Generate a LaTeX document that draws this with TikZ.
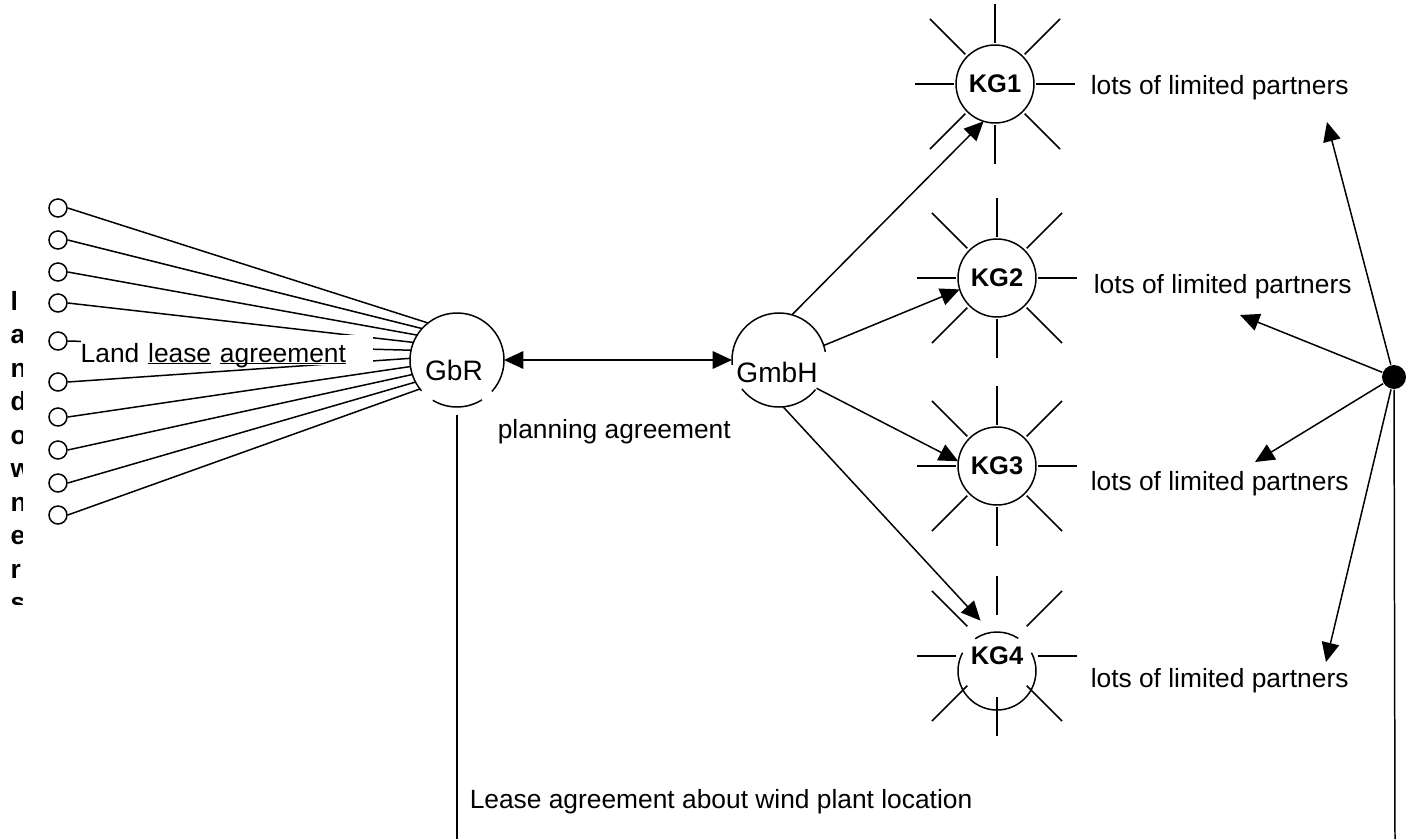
\documentclass[tikz,border=0pt]{standalone}
\usepackage{fontspec}
\setmainfont{Liberation Sans}
\usepackage{tikz}
\usetikzlibrary{arrows.meta,calc}

\newsavebox\ulinebox
\newcommand\lineunder[1]{\sbox\ulinebox{#1}\rlap{\rule[-1.3pt]{\wd\ulinebox}{0.6pt}}\usebox\ulinebox}

\begin{document}
\begin{tikzpicture}[x=0.02cm,y=0.02cm,line width=0.85pt,>={Triangle[length=11pt,width=10pt]},
  txt/.style={inner sep=0pt,font=\fontsize{15}{18}\selectfont},
  owner/.style={circle,draw,minimum size=0.36cm,inner sep=0pt},
  party/.style={circle,minimum size=1.88cm,inner sep=0pt,outer sep=0pt},
  kg/.style={circle,minimum size=1.56cm,inner sep=0pt,outer sep=0pt,font=\bfseries\fontsize{14.5}{17}\selectfont}]
  \useasboundingbox (0,0) rectangle (1414,-839);

  \coordinate (kg4ring) at (997,-671);
  \coordinate (gbrfoot) at (457,-839);
  \coordinate (hubfoot) at (1395,-839);
  \coordinate (t1) at (1327,-122);
  \coordinate (t2) at (1240,-315);
  \coordinate (t3) at (1255,-462);
  \coordinate (t4) at (1326,-662);

  \node[party] (gbr) at (457,-360) {};
  \node[party] (gmbh) at (779,-360) {};
  \node[kg,draw] (kg1) at (995,-84) {KG1};
  \node[kg,draw] (kg2) at (997,-278) {KG2};
  \node[kg,draw] (kg3) at (997,-466) {KG3};
  \node[kg] (kg4) at (997,-656) {KG4};
  \node[circle,fill,minimum size=0.48cm,inner sep=0pt] (hub) at (1394,-377) {};

  % landowners
  \foreach \y [count=\i] in {208,240,272,303,341,382,417,450,483,515}
    \node[owner] (o\i) at (58,-\y) {};
  \foreach \i in {1,...,10}{
    \pgfmathtruncatemacro\ang{118+10*\i}
    \draw (o\i.east) -- (gbr.\ang);
  }
  \node[txt,fill=white,anchor=base west,text width=5.84cm,align=left,text height=15.3pt,text depth=1.7pt]
    (lease) at (80,-362) {Land \lineunder{lease} \lineunder{agreement}};

  \begin{scope}
    \clip (0,-280) rectangle (22,-604);
    \foreach \c [count=\i from 0] in {l,a,n,d,o,w,n,e,r,s}
      \node[txt,font=\bfseries\fontsize{15}{18}\selectfont,anchor=base west] (ltr\i) at (10,{-310-33.5*\i}) {\c};
  \end{scope}

  % broken circles
  \draw ([shift={(-42:47)}]gbr.center) arc[start angle=-42,end angle=221,radius=47];
  \draw ([shift={(239:47)}]gbr.center) arc[start angle=239,end angle=302,radius=47];
  \draw ([shift={(10:47)}]gmbh.center) arc[start angle=10,end angle=186,radius=47];
  \draw ([shift={(218:47)}]gmbh.center) arc[start angle=218,end angle=321,radius=47];
  \draw ([shift={(152:39)}]kg4ring) arc[start angle=152,end angle=388,radius=39];
  \draw ([shift={(57:39)}]kg4ring) arc[start angle=57,end angle=124,radius=39];

  \node[txt,font=\fontsize{16}{19}\selectfont,anchor=base] (gbrname) at (454,-380) {GbR};
  \node[txt,font=\fontsize{16}{19}\selectfont,anchor=base] (gmbhname) at (777,-382) {GmbH};
  \node[txt,anchor=base west] (plan) at (497,-438) {planning agreement};
  \node[txt,anchor=base west] (site) at (469,-808) {Lease agreement about wind plant location};
  \foreach \x/\y [count=\i] in {1090/94,1093/293,1090/490,1090/687}
    \node[txt,anchor=base west] (lp\i) at (\x,-\y) {lots of limited partners};

  % rays
  \foreach \k in {kg1,kg2,kg3,kg4}{
    \foreach \a in {0,90,180,270}
      \draw ([shift={(\a:41)}]\k.center) -- ([shift={(\a:80)}]\k.center);
    \foreach \a in {45,135,225,315}
      \draw ([shift={(\a:42)}]\k.center) -- ([shift={(\a:92)}]\k.center);
  }

  \draw[<->] (gbr.east) -- (gmbh.west);
  \draw[->] (gmbh.74) -- (kg1.253);
  \draw[->] (gmbh.18) -- (kg2.197);
  \draw[->] (gmbh.-37) -- (kg3.173);
  \draw[->] (gmbh.-85) -- (kg4.115);
  \draw ([yshift=-0.16cm]gbr.south) -- (gbrfoot);
  \foreach \i in {1,...,4}
    \draw[->] (hub) -- (t\i);
  \draw (hub) -- (hubfoot);
\end{tikzpicture}
\end{document}
